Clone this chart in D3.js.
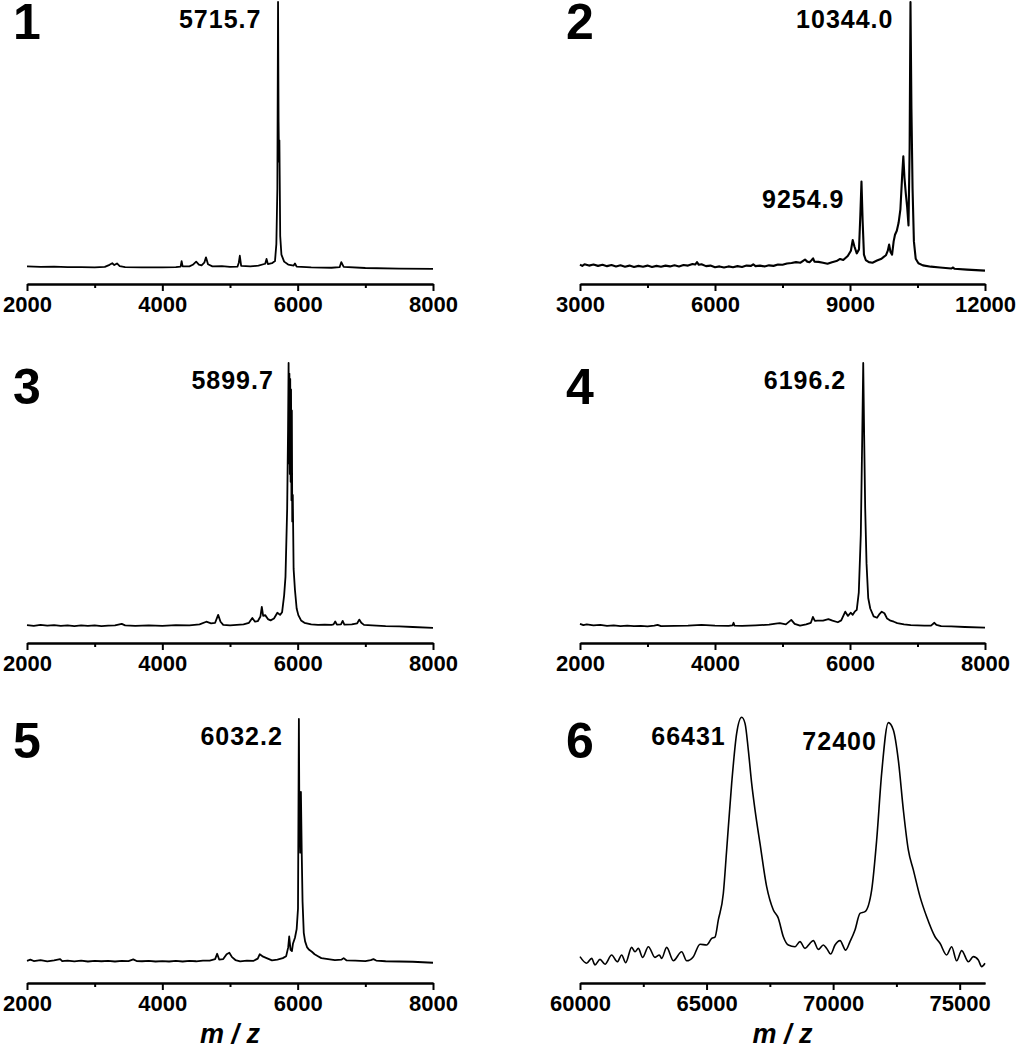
<!DOCTYPE html>
<html>
<head>
<meta charset="utf-8">
<script src="https://cdn.jsdelivr.net/npm/d3@7"></script>
<style>
  body { margin: 0; background: #fff; }
  svg { display: block; font-family: "Liberation Sans", Arial, Helvetica, sans-serif; }
  .tick text { font-weight: bold; font-size: 22px; fill: #000; }
  .domain, .tick line { stroke: #000; stroke-width: 2; }
</style>
</head>
<body>
<svg id="chart" width="1018" height="1050"></svg>
<script>
// spectra: [m/z, relative intensity]
var spec1 = [[2000,0.6],[2200,0.4],[2400,0.5],[2600,0.3],[2800,0.3],[3000,0.2],[3150,0.4],[3220,1.2],[3260,1.8],[3290,1.1],[3330,1.7],[3370,0.7],[3450,0.3],[3700,0.2],[4000,0.2],[4200,0.3],[4270,0.5],[4285,2.6],[4300,0.6],[4400,0.6],[4450,1.2],[4500,2.4],[4540,1.3],[4580,1.0],[4620,2.0],[4645,4.0],[4675,1.4],[4740,0.6],[4880,0.7],[5000,0.4],[5110,0.5],[5130,2.0],[5145,4.6],[5165,0.8],[5300,0.6],[5420,0.9],[5520,1.6],[5540,3.4],[5560,1.5],[5620,1.8],[5665,2.6],[5685,9],[5700,30],[5710,100],[5718,55],[5724,40],[5730,48],[5742,12],[5760,5],[5800,2.4],[5860,1.3],[5940,0.9],[5960,1.7],[5985,0.5],[6200,0.2],[6500,0.1],[6620,0.3],[6645,2.2],[6680,0.4],[7000,0],[7500,-0.2],[8000,-0.3]];

var spec2 = [[3000,1.3],[3050,0.8],[3100,1.4],[3200,0.9],[3300,1.3],[3400,0.8],[3500,1.2],[3600,0.7],[3700,1.1],[3800,0.6],[3900,1.0],[4000,0.5],[4100,0.9],[4200,0.4],[4300,0.8],[4400,0.5],[4500,0.9],[4600,0.4],[4700,0.8],[4800,0.5],[4900,0.9],[5000,0.6],[5100,1.0],[5200,0.6],[5300,1.1],[5400,0.9],[5500,1.5],[5560,1.3],[5600,2.2],[5640,1.2],[5700,1.4],[5800,0.7],[5900,0.9],[6000,0.3],[6100,0.6],[6200,0.2],[6300,0.6],[6400,0.3],[6500,0.7],[6600,0.4],[6700,0.9],[6800,0.8],[6850,1.4],[6900,0.7],[7000,0.9],[7100,0.6],[7200,1.0],[7300,0.8],[7400,1.3],[7500,1.2],[7600,1.7],[7700,1.9],[7800,2.2],[7900,2.0],[7950,2.6],[8000,3.2],[8050,2.4],[8100,2.2],[8150,3.0],[8180,3.6],[8210,2.4],[8300,2.3],[8400,2.0],[8500,1.6],[8600,2.2],[8700,2.6],[8780,3.4],[8850,3.0],[8950,4.5],[9020,6.5],[9060,10.5],[9100,8.0],[9150,5.5],[9200,7.0],[9230,20],[9255,32.5],[9280,18],[9310,5],[9350,3],[9420,2.2],[9500,2.0],[9600,2.8],[9700,3.5],[9750,4.2],[9800,4.8],[9840,6.5],[9870,8.8],[9900,6.0],[9935,5.0],[9970,10],[10000,12.5],[10040,14],[10080,17],[10120,22],[10160,35],[10185,42],[10210,34],[10240,28],[10270,23],[10300,16],[10325,45],[10344,100],[10365,60],[10390,30],[10420,10],[10460,3.5],[10520,1.8],[10620,1.0],[10800,0.5],[11000,0.2],[11250,-0.2],[11290,0.2],[11320,-0.3],[11600,-0.6],[12000,-1.0]];

var spec3 = [[2000,0.7],[2100,0.4],[2200,0.8],[2300,0.5],[2400,0.7],[2500,0.4],[2600,0.6],[2700,0.3],[2800,0.6],[2900,0.4],[3000,0.6],[3100,0.3],[3200,0.5],[3300,0.6],[3400,1.2],[3450,0.6],[3600,0.4],[3800,0.6],[4000,0.4],[4200,0.7],[4400,0.6],[4550,1.0],[4650,2.0],[4720,1.4],[4780,1.6],[4825,4.6],[4860,2.0],[4900,0.8],[5000,0.6],[5100,0.8],[5200,1.0],[5280,1.6],[5330,3.4],[5370,2.0],[5410,2.2],[5450,4.0],[5470,7.6],[5490,4.2],[5520,4.5],[5560,3.0],[5600,2.5],[5650,3.2],[5700,5.4],[5740,4.6],[5770,5.6],[5800,12],[5820,19],[5845,45],[5858,75],[5866,100],[5872,62],[5878,96],[5884,58],[5890,94],[5896,55],[5902,90],[5908,48],[5914,82],[5920,40],[5928,50],[5940,22],[5960,14],[5985,7],[6010,4.5],[6050,2.5],[6100,1.6],[6200,1.0],[6300,0.8],[6400,0.9],[6500,0.8],[6530,1.0],[6555,2.1],[6580,0.9],[6640,1.0],[6665,2.3],[6690,0.9],[6800,1.0],[6880,1.4],[6910,2.8],[6940,1.6],[6980,0.8],[7100,0.6],[7300,0.3],[7500,0.2],[7700,0.0],[8000,-0.3]];

var spec4 = [[2000,1.2],[2050,0.7],[2100,1.0],[2200,0.6],[2300,0.8],[2400,0.4],[2500,0.6],[2600,0.3],[2700,0.5],[2800,0.3],[2900,0.4],[3000,0.2],[3100,0.5],[3150,0.8],[3200,0.3],[3400,0.4],[3600,0.5],[3800,0.8],[4000,0.5],[4200,0.4],[4260,0.6],[4275,1.6],[4290,0.5],[4400,0.4],[4600,0.6],[4800,0.9],[4900,1.3],[4960,1.5],[5050,1.0],[5130,2.7],[5180,1.2],[5260,0.5],[5350,1.0],[5420,1.6],[5450,3.8],[5480,2.3],[5520,2.4],[5600,2.4],[5680,3.0],[5740,2.4],[5820,1.8],[5870,2.5],[5930,5.8],[5970,4.2],[6010,5.4],[6040,4.6],[6070,5.8],[6100,6.5],[6130,13],[6160,35],[6180,70],[6196,100],[6210,72],[6225,45],[6245,24],[6270,11],[6300,7],[6350,4.0],[6400,3.5],[6440,5.0],[6470,5.8],[6510,5.2],[6550,3.2],[6600,2.4],[6650,2.0],[6700,1.5],[6800,1.0],[6900,0.7],[7000,0.6],[7100,0.5],[7200,0.5],[7250,1.6],[7280,0.8],[7350,0.3],[7500,0.2],[7700,0.0],[8000,-0.2]];

var spec5 = [[2000,0.5],[2050,1.0],[2100,0.4],[2200,0.8],[2300,0.3],[2400,0.7],[2490,1.2],[2520,0.4],[2600,0.6],[2700,0.3],[2800,0.6],[2900,0.2],[3000,0.5],[3100,0.3],[3200,0.5],[3300,0.2],[3400,0.5],[3500,0.4],[3570,1.1],[3620,0.4],[3700,0.3],[3800,0.5],[3900,0.2],[4000,0.4],[4100,0.2],[4200,0.5],[4300,0.2],[4400,0.5],[4500,0.3],[4600,0.6],[4700,0.6],[4780,1.2],[4810,3.4],[4840,1.0],[4900,1.2],[4950,3.2],[4990,3.8],[5030,2.0],[5080,0.8],[5150,0.3],[5250,0.6],[5350,0.5],[5410,1.4],[5440,3.2],[5490,2.2],[5550,1.5],[5620,0.7],[5700,1.0],[5780,1.6],[5830,2.4],[5860,6],[5875,10.5],[5895,5],[5915,4.5],[5930,7.5],[5960,10],[5985,13.5],[6005,22],[6018,100],[6025,60],[6038,45],[6048,70],[6060,45],[6072,25],[6090,12],[6110,8.5],[6140,6],[6170,5],[6210,4.2],[6250,3.2],[6300,2.4],[6350,1.6],[6450,1.2],[6550,0.8],[6650,1.0],[6680,1.6],[6720,0.7],[6850,0.6],[7000,0.4],[7080,0.8],[7120,1.2],[7160,0.6],[7300,0.3],[7500,0.2],[7700,0.1],[8000,-0.3]];

var spec6 = [[60000,2.2],[60263,-0.5],[60461,1.5],[60593,-1.2],[60790,1.1],[60988,-0.9],[61251,2.9],[61475,0.1],[61646,2.9],[61804,-0.3],[62041,6.0],[62173,4.2],[62304,5.6],[62476,1.9],[62700,6.3],[62963,1.9],[63134,2.9],[63226,1.5],[63424,6.0],[63687,0.5],[64016,4.2],[64214,0.5],[64477,2.2],[64741,7.3],[65004,7.0],[65202,9.7],[65333,10.2],[65465,17.3],[65663,28.3],[65794,46.1],[65992,73.5],[66189,94.1],[66387,100.7],[66519,98.2],[66650,87.2],[66782,73.5],[66914,62.6],[67111,48.8],[67374,31.0],[67638,21.4],[67835,18.0],[68033,10.4],[68230,7.0],[68494,6.3],[68691,8.4],[68889,5.6],[69086,7.7],[69218,8.8],[69415,5.2],[69613,7.0],[69745,5.6],[69903,3.3],[70074,7.0],[70272,8.8],[70496,4.9],[70667,8.4],[70864,13.2],[71062,20.0],[71259,20.7],[71522,29.6],[71720,50.2],[71918,77.7],[72181,98.5],[72379,95.5],[72576,83.1],[72774,62.6],[72971,46.1],[73169,37.9],[73432,26.9],[73696,18.6],[74025,10.4],[74222,7.7],[74485,2.9],[74683,6.3],[74880,0.5],[75078,4.7],[75342,0.1],[75539,2.2],[75737,0.8],[75868,-1.9],[76000,-0.5]];

var spectra = [spec1, spec2, spec3, spec4, spec5, spec6];
var panelNames = ["1", "2", "3", "4", "5", "6"];
var xDomains = [[2000, 8000], [3000, 12000], [2000, 8000], [2000, 8000], [2000, 8000], [60000, 76000]];
var majorTicks = [
  [2000, 4000, 6000, 8000], [3000, 6000, 9000, 12000],
  [2000, 4000, 6000, 8000], [2000, 4000, 6000, 8000],
  [2000, 4000, 6000, 8000], [60000, 65000, 70000, 75000]];
var minorTicks = [
  [3000, 5000, 7000], [4500, 7500, 10500],
  [3000, 5000, 7000], [3000, 5000, 7000],
  [3000, 5000, 7000], [62500, 67500, 72500]];
// labelled peaks per panel: [m/z, height, text]
var peakLabels = [
  [[5715.7, 100, "5715.7"]],
  [[10344.0, 100, "10344.0"], [9254.9, 32.5, "9254.9"]],
  [[5899.7, 100, "5899.7"]],
  [[6196.2, 100, "6196.2"]],
  [[6032.2, 100, "6032.2"]],
  [[66431, 100, "66431"], [72400, 98, "72400"]]];
var xTitle = "m / z";

var svg = d3.select("#chart");

// layout
var cols = [[27, 433], [580, 985]];
var rows = [
  {axis: 284, zero: 268, top: 2, num: 39},
  {axis: 643, zero: 627, top: 363, num: 404},
  {axis: 983, zero: 962, top: 719, num: 758}];

spectra.forEach(function(data, i){
    var col = cols[i % 2], row = rows[Math.floor(i / 2)];
    var x = d3.scaleLinear().domain(xDomains[i]).range(col);
    var y = d3.scaleLinear().domain([0, 100]).range([row.zero, row.top]);
    var g = svg.append("g");

    var line = d3.line()
        .x(function(d){ return x(d[0]); })
        .y(function(d){ return y(d[1]); });
    if (i == 5) line.curve(d3.curveMonotoneX);

    g.append("path")
        .datum(data)
        .attr("d", line)
        .attr("fill", "none")
        .attr("stroke", "#000")
        .attr("stroke-width", i == 5 ? 1.6 : (i == 1 ? 2.1 : 1.8))
        .attr("stroke-linejoin", "round");

    // minor ticks first, then major axis with labels
    g.append("g")
        .attr("transform", "translate(0," + row.axis + ")")
        .call(d3.axisBottom(x).tickValues(minorTicks[i]).tickSize(4).tickSizeOuter(0).tickFormat(""));
    g.append("g")
        .attr("transform", "translate(0," + row.axis + ")")
        .call(d3.axisBottom(x).tickValues(majorTicks[i]).tickSize(7).tickPadding(5).tickSizeOuter(0).tickFormat(d3.format("d")));

    g.append("text")
        .attr("x", col[0] - 14)
        .attr("y", row.num)
        .attr("font-size", 50)
        .attr("font-weight", "bold")
        .text(panelNames[i]);

    peakLabels[i].forEach(function(p){
        g.append("text")
            .attr("x", x(p[0]) - 17)
            .attr("y", y(p[1]) + 26)
            .attr("text-anchor", "end")
            .attr("font-size", 25)
            .attr("font-weight", "bold")
            .attr("letter-spacing", 1)
            .text(p[2]);
    });

    if (i >= 4) {
        g.append("text")
            .attr("x", (col[0] + col[1]) / 2)
            .attr("y", 1043)
            .attr("text-anchor", "middle")
            .attr("font-size", 27)
            .attr("font-weight", "bold")
            .attr("font-style", "italic")
            .text(xTitle);
    }
});
</script>
</body>
</html>
